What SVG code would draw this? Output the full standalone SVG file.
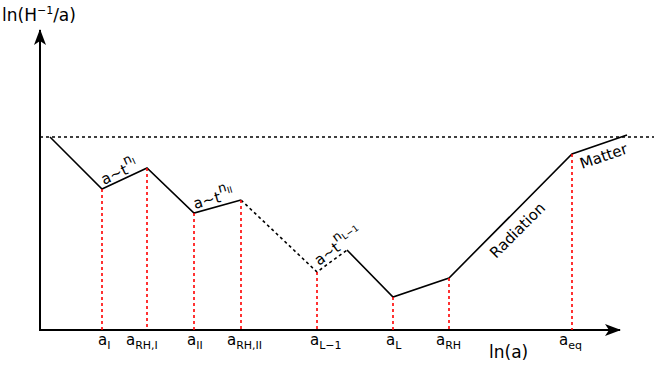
<svg xmlns="http://www.w3.org/2000/svg" width="654" height="374" viewBox="0 0 654 374">
<defs>
<marker id="arr" markerWidth="16" markerHeight="12" refX="15" refY="6" orient="auto" markerUnits="userSpaceOnUse">
<path d="M0,0 L16,6 L0,12 L4,6 Z" fill="#000"/>
</marker>
<style>
.ax{stroke:#000;stroke-width:2;fill:none}
.cv{stroke:#000;stroke-width:1.6;fill:none}
.dt{stroke:#000;stroke-width:1.6;fill:none;stroke-dasharray:3,3}
.rd{stroke:#ff0000;stroke-width:1.6;fill:none;stroke-dasharray:3,3}
text{font-family:"DejaVu Sans","Liberation Sans",sans-serif;fill:#000}
.lb{font-size:15px}
.sb{font-size:11px}
.ang{font-size:15px}
.sp{font-size:13px}
.ss{font-size:9px}
</style>
</defs>
<g id="axes">
<line class="ax" x1="40" y1="331" x2="40" y2="30" marker-end="url(#arr)"/>
<line class="ax" x1="39" y1="330" x2="620" y2="330" marker-end="url(#arr)"/>
<line class="dt" x1="40" y1="137" x2="654" y2="137"/>
</g>
<g id="connectors">
<polyline class="cv" points="50,137 102,189 147,168 194,213 241,200"/>
<polyline class="dt" points="241,200 317,272 347,250"/>
<polyline class="cv" points="347,250 393,297 449,278 572,154 627,135"/>
<line class="rd" x1="102" y1="189" x2="102" y2="330"/>
<line class="rd" x1="147" y1="168" x2="147" y2="330"/>
<line class="rd" x1="194" y1="213" x2="194" y2="330"/>
<line class="rd" x1="241" y1="200" x2="241" y2="330"/>
<line class="rd" x1="317" y1="272" x2="317" y2="330"/>
<line class="rd" x1="393" y1="297" x2="393" y2="330"/>
<line class="rd" x1="449" y1="278" x2="449" y2="330"/>
<line class="rd" x1="572" y1="154" x2="572" y2="330"/>
</g>
<g id="ylabel"><text x="2" y="21" style="font-size:17px">ln(H<tspan dy="-7" style="font-size:11px">−1</tspan><tspan dy="7">/a)</tspan></text></g>
<g id="xlabel"><text x="489" y="358" style="font-size:17px">ln(a)</text></g>
<g id="ticklabels">
<text class="lb" x="98" y="345">a<tspan class="sb" dy="4">I</tspan></text>
<text class="lb" x="126" y="345">a<tspan class="sb" dy="4">RH,I</tspan></text>
<text class="lb" x="187" y="345">a<tspan class="sb" dy="4">II</tspan></text>
<text class="lb" x="227" y="345">a<tspan class="sb" dy="4">RH,II</tspan></text>
<text class="lb" x="310" y="345">a<tspan class="sb" dy="4">L−1</tspan></text>
<text class="lb" x="386" y="345">a<tspan class="sb" dy="4">L</tspan></text>
<text class="lb" x="436" y="345">a<tspan class="sb" dy="4">RH</tspan></text>
<text class="lb" x="559" y="345">a<tspan class="sb" dy="4">eq</tspan></text>
</g>
<g id="seglabels">
<text class="ang" transform="translate(104,185) rotate(-25)">a~t<tspan class="sp" dy="-9">n</tspan><tspan class="ss" dy="3">I</tspan></text>
<text class="ang" transform="translate(195,209) rotate(-15.5)">a~t<tspan class="sp" dy="-9">n</tspan><tspan class="ss" dy="3">II</tspan></text>
<text class="ang" transform="translate(319,266) rotate(-36)">a~t<tspan class="sp" dy="-9">n</tspan><tspan class="ss" dy="3">L−1</tspan></text>
<text class="ang" transform="translate(496,259) rotate(-45)">Radiation</text>
<text class="ang" transform="translate(582,169) rotate(-19)">Matter</text>
</g>
</svg>
